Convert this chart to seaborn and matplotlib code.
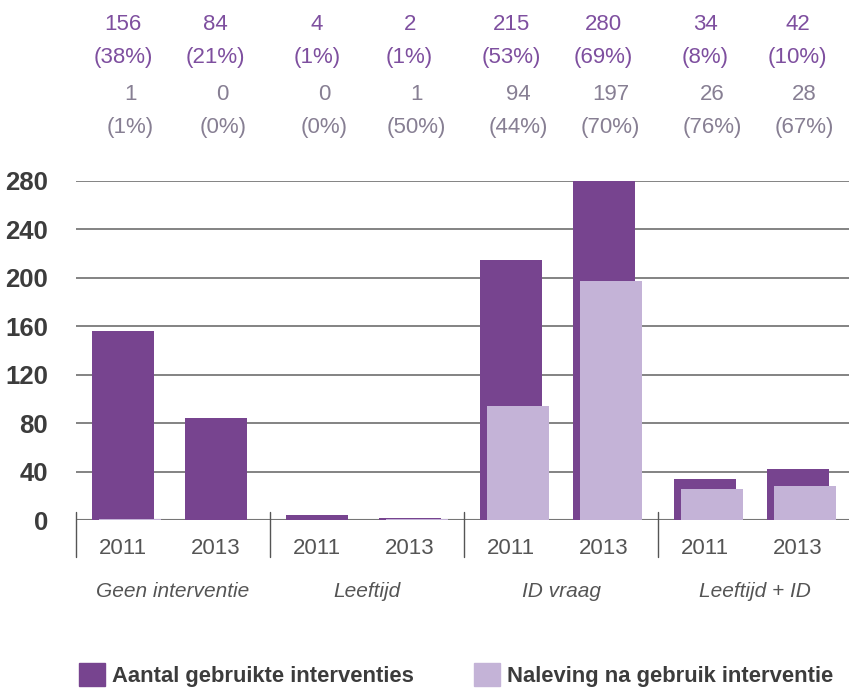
import matplotlib
matplotlib.use("Agg")
import matplotlib.pyplot as plt
import matplotlib.transforms as mtransforms
from matplotlib.patches import Patch
import pandas as pd
import seaborn as sns

# data
groups = ["Geen interventie", "Leeftijd", "ID vraag", "Leeftijd + ID"]
years = ["2011", "2013"]
used = [156, 84, 4, 2, 215, 280, 34, 42]
used_pct = [38, 21, 1, 1, 53, 69, 8, 10]
compliant = [1, 0, 0, 1, 94, 197, 26, 28]
compliant_pct = [1, 0, 0, 50, 44, 70, 76, 67]
y_ticks = [0, 40, 80, 120, 160, 200, 240, 280]
legend_labels = ["Aantal gebruikte interventies", "Naleving na gebruik interventie"]

dark = "#77448f"
light = "#c4b3d7"
txt_purple = "#7e4f9f"
txt_gray = "#877f93"

sns.set_theme(style="white")
plt.rcParams["font.family"] = ["Liberation Sans", "DejaVu Sans"]

# bar positions: two bars per group, light bar slightly shifted right
pos_dark = [2 * g + 0.485 + 0.955 * j for g in range(len(groups)) for j in range(len(years))]
pos_light = [p + 0.072 for p in pos_dark]
df_used = pd.DataFrame({"pos": pos_dark, "value": used})
df_comp = pd.DataFrame({"pos": pos_light, "value": compliant})

fig = plt.figure(figsize=(8.49, 6.93), dpi=100)
ax = fig.add_axes([76 / 849, (693 - 520) / 693, 776 / 849, 339 / 693])

bw = 0.64 / 0.955
sns.barplot(data=df_used, x="pos", y="value", native_scale=True, width=bw,
            color=dark, saturation=1, linewidth=0, ax=ax)
sns.barplot(data=df_comp, x="pos", y="value", native_scale=True, width=bw,
            color=light, saturation=1, linewidth=0, ax=ax)

ax.set_xlim(0, 8)
ax.set_ylim(0, 280)
ax.set_xlabel("")
ax.set_ylabel("")
for s in ax.spines.values():
    s.set_visible(False)

ax.set_axisbelow(True)
ax.set_yticks(y_ticks)
ax.yaxis.grid(True, color="#7a7a7a", linewidth=1.3)
ax.axhline(0, color="#555555", linewidth=1.5, zorder=0.5)
ax.tick_params(axis="y", length=0, pad=20, labelsize=18.5, labelcolor="#3c3c3c")
for lbl in ax.get_yticklabels():
    lbl.set_fontweight("bold")

ax.set_xticks(pos_dark)
ax.set_xticklabels(years * len(groups))
ax.tick_params(axis="x", length=0, pad=13, labelsize=16, labelcolor="#555555")

# group separators and names
for g, name in enumerate(groups):
    ax.plot([2 * g, 2 * g], [0.024, -0.109], color="#555555", linewidth=1,
            transform=ax.get_xaxis_transform(), clip_on=False)
    ax.text(2 * g + 1, -0.21, name, transform=ax.get_xaxis_transform(),
            ha="center", va="center", fontsize=15, style="italic", color="#555555")

# value labels at top
tr = mtransforms.blended_transform_factory(ax.transData, fig.transFigure)
for i in range(len(used)):
    ax.text(pos_dark[i], 1 - 25 / 693, str(used[i]), transform=tr, ha="center",
            va="center", fontsize=16, color=txt_purple)
    ax.text(pos_dark[i], 1 - 57 / 693, f"({used_pct[i]}%)", transform=tr, ha="center",
            va="center", fontsize=16, color=txt_purple)
    ax.text(pos_light[i], 1 - 94 / 693, str(compliant[i]), transform=tr, ha="center",
            va="center", fontsize=16, color=txt_gray)
    ax.text(pos_light[i], 1 - 127 / 693, f"({compliant_pct[i]}%)", transform=tr, ha="center",
            va="center", fontsize=16, color=txt_gray)

handles = [Patch(color=dark, label=legend_labels[0]),
           Patch(color=light, label=legend_labels[1])]
fig.legend(handles=handles, loc="center left", bbox_to_anchor=(79 / 849, 1 - 675 / 693),
           ncol=2, frameon=False, handlelength=1.2, handleheight=1.2,
           handletextpad=0.3, columnspacing=2.75, borderaxespad=0, borderpad=0,
           prop={"weight": "bold", "size": 15.8}, labelcolor="#3c3c3c")

fig.savefig("out.png", dpi=100)
